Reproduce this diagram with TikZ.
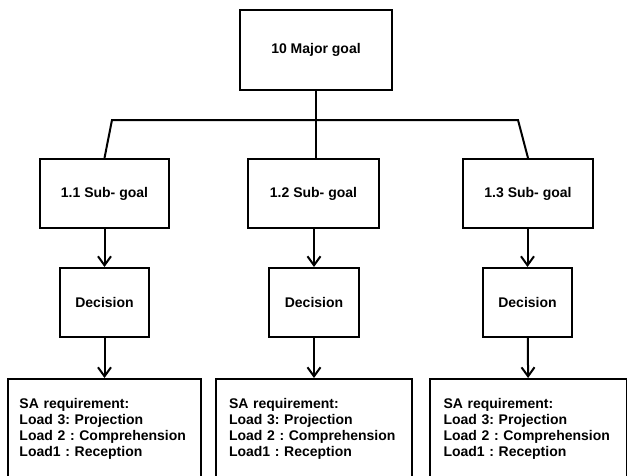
\documentclass[tikz,border=0pt]{standalone}
\usepackage{fontspec}
\setmainfont{Liberation Sans}
\usetikzlibrary{arrows.meta}
\frenchspacing

\tikzset{
  goalbox/.style={draw, line width=2pt, font=\fontsize{14}{16}\selectfont\bfseries},
  sabox/.style={draw, line width=2pt, anchor=north, minimum height=100, text width=170,
    align=left, font=\fontsize{14}{16}\selectfont\bfseries},
  link/.style={line width=2pt},
  down/.style={line width=2pt, -{Straight Barb[length=9pt,width=13pt,line width=2pt]}}
}

\begin{document}
\begin{tikzpicture}[x=1pt,y=-1pt]
\useasboundingbox (0,0) rectangle (627,475);
\clip (0,0) rectangle (627,475);
%% major goal

\node[goalbox, minimum width=152, minimum height=80] (major) at (316,50) {10 Major goal};

\coordinate (busL) at (112,120);
\coordinate (busM) at (316,120);
\coordinate (busR) at (518,120);

%% sub goals
\node[goalbox, minimum width=129, minimum height=69] (sub1) at (104.5,193.5) {1.1 Sub- goal};
\node[goalbox, minimum width=131, minimum height=69] (sub2) at (313.5,193.5) {1.2 Sub- goal};
\node[goalbox, minimum width=130, minimum height=69] (sub3) at (528,193.5) {1.3 Sub- goal};

\draw[link] (major) -- (busM);
\draw[link] (sub1.north) -- (busL) -- (busR) -- (sub3.north);
\draw[link] (busM) -- (busM |- sub2.north);

%% decisions
\node[goalbox, minimum width=89, minimum height=69] (dec1) at (104.5,302.5) {Decision};
\node[goalbox, minimum width=90, minimum height=69] (dec2) at (314,302.5) {Decision};
\node[goalbox, minimum width=89, minimum height=69] (dec3) at (527.5,302.5) {Decision};

\draw[down] (sub1) -- (dec1);
\draw[down] (sub2.south -| dec2) -- (dec2);
\draw[down] (sub3.south -| dec3) -- (dec3);

%% SA requirements
\node[sabox, minimum width=193] (sa1) at (104.5,378) {SA requirement:\\Load 3: Projection\\Load 2 : Comprehension\\Load1 : Reception};
\node[sabox, minimum width=196] (sa2) at (314,378) {SA requirement:\\Load 3: Projection\\Load 2 : Comprehension\\Load1 : Reception};
\node[sabox, minimum width=197] (sa3) at (528.5,378) {SA requirement:\\Load 3: Projection\\Load 2 : Comprehension\\Load1 : Reception};

\draw[down] (dec1) -- (sa1);
\draw[down] (dec2) -- (sa2);
\draw[down] (dec3) -- (sa3);

\end{tikzpicture}
\end{document}
